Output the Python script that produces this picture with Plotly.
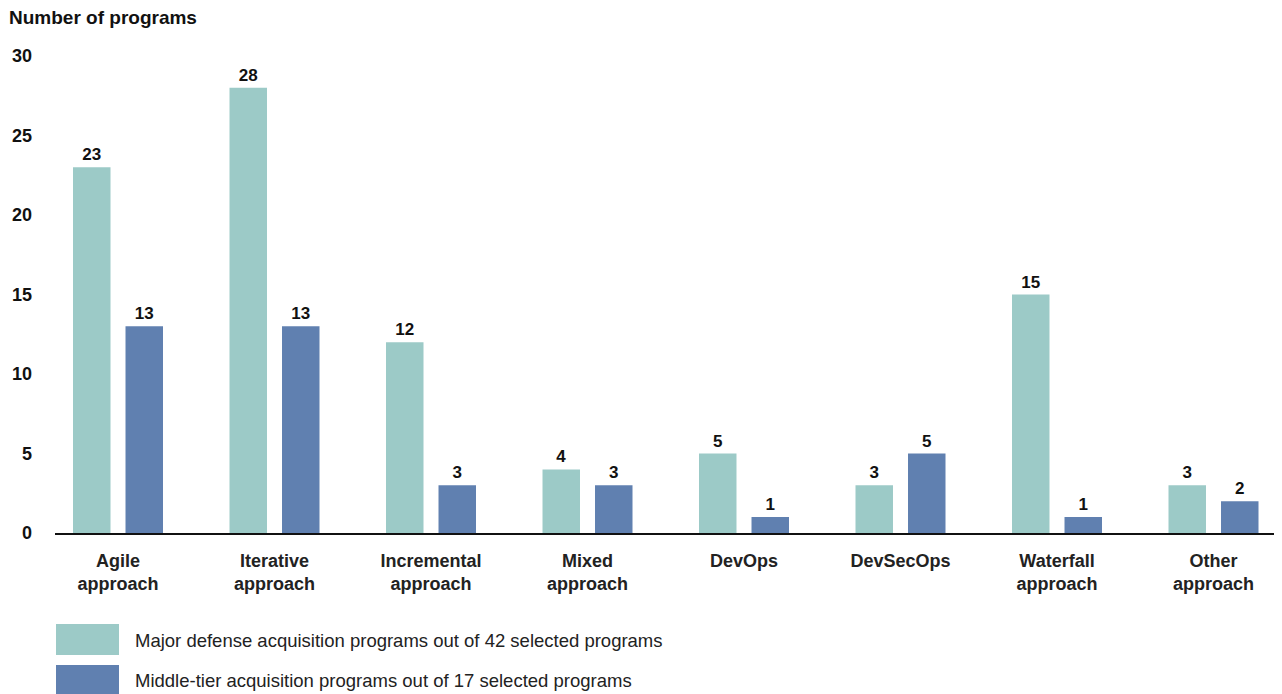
import plotly.graph_objects as go

categories = ["Agile<br>approach", "Iterative<br>approach", "Incremental<br>approach", "Mixed<br>approach",
              "DevOps", "DevSecOps", "Waterfall<br>approach", "Other<br>approach"]
major_values = [23, 28, 12, 4, 5, 3, 15, 3]
middle_values = [13, 13, 3, 3, 1, 5, 1, 2]
series_names = ["Major defense acquisition programs out of 42 selected programs",
                "Middle-tier acquisition programs out of 17 selected programs"]
y_ticks = [0, 5, 10, 15, 20, 25, 30]

TEAL = "#9ccac7"
BLUE = "#6080b0"
FONT = "Liberation Sans, Arial, sans-serif"

# page body has an 8px margin: figure is drawn at (8, 8)
OFF = 8
W, H = 1282 - OFF, 694 - OFF
# plot area in screen pixels: x 55..1282, y 56..533
ML, MR, MT = 55 - OFF, 0, 56 - OFF
MB = H - (533 - OFF)
PW, PH = W - ML - MR, H - MT - MB


def px(x):
    return (x - OFF - ML) / PW


def py(y):
    return (H - MB - (y - OFF)) / PH


fig = go.Figure()
for name, vals, col in [(series_names[0], major_values, TEAL), (series_names[1], middle_values, BLUE)]:
    fig.add_trace(go.Bar(
        x=list(range(len(categories))), y=vals, name=name, marker=dict(color=col, line=dict(width=0)),
        text=vals, textposition="outside", cliponaxis=False,
        textfont=dict(family=FONT, size=17, color="#111111"),
        texttemplate="<b>%{text}</b>", showlegend=False, hoverinfo="skip",
    ))

fig.update_layout(
    width=W, height=H, margin=dict(l=ML, r=MR, t=MT, b=MB),
    paper_bgcolor="white", plot_bgcolor="white",
    barmode="group", bargap=0.329, bargroupgap=0.286,
    font=dict(family=FONT, color="#111111"),
    xaxis=dict(
        range=[-0.4026, 7.4377], tickmode="array", tickvals=list(range(len(categories))),
        ticktext=["<b>%s</b>" % c for c in categories],
        tickfont=dict(family=FONT, size=18, color="#222222"),
        showline=True, linecolor="#111111", linewidth=2, ticks="", showgrid=False,
        zeroline=False, ticklabelstandoff=10,
    ),
    yaxis=dict(
        range=[0, 30], tickmode="array", tickvals=y_ticks,
        ticktext=["<b>%d</b>" % v for v in y_ticks],
        tickfont=dict(family=FONT, size=18, color="#111111"),
        showgrid=False, zeroline=False, showline=False, ticks="", ticklabelstandoff=22,
    ),
)

fig.add_annotation(text="<b>Number of programs</b>", xref="paper", yref="paper",
                   x=px(7), y=py(18), xanchor="left", yanchor="middle", showarrow=False,
                   font=dict(family=FONT, size=19, color="#111111"))

legend_rows = [(624, 655, 640, TEAL, series_names[0]), (665, 696, 680, BLUE, series_names[1])]
for top, bot, mid, col, name in legend_rows:
    fig.add_shape(type="rect", xref="paper", yref="paper", x0=px(56), x1=px(119), y0=py(bot), y1=py(top),
                  fillcolor=col, line=dict(width=0))
    fig.add_annotation(text=name, xref="paper", yref="paper", x=px(133), y=py(mid), xanchor="left",
                       yanchor="middle", showarrow=False, font=dict(family=FONT, size=18.5, color="#222222"))

fig.write_html("out.html")
